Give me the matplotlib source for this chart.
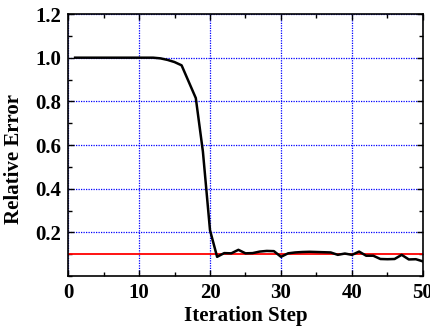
import matplotlib
matplotlib.use("Agg")
import matplotlib.pyplot as plt
from matplotlib.ticker import MultipleLocator

steps = list(range(1, 51))
rel_error = [1.0, 1.0, 1.0, 1.0, 1.0, 1.0, 1.0, 1.0, 1.0, 1.0,
             1.0, 1.0, 0.997, 0.99, 0.98, 0.965, 0.89, 0.815, 0.57, 0.21,
             0.088, 0.105, 0.104, 0.12, 0.104, 0.105, 0.112, 0.115, 0.114, 0.088,
             0.104, 0.108, 0.11, 0.111, 0.11, 0.109, 0.108, 0.097, 0.103, 0.097,
             0.112, 0.093, 0.093, 0.078, 0.077, 0.078, 0.097, 0.076, 0.077, 0.067]
threshold = 0.1

plt.rcParams['font.family'] = ['Liberation Serif', 'DejaVu Serif']
plt.rcParams['font.weight'] = 'bold'

fig = plt.figure(figsize=(4.31, 3.29), dpi=100)
ax = fig.add_axes([0.1578, 0.161, 0.8236, 0.7964])

ax.axhline(threshold, color='red', lw=1.3, zorder=2)
ax.plot(steps, rel_error, color='black', lw=1.8, zorder=3)

ax.set_xlim(0, 50)
ax.set_ylim(0, 1.2)
ax.xaxis.set_major_locator(MultipleLocator(10))
ax.xaxis.set_minor_locator(MultipleLocator(5))
ax.yaxis.set_minor_locator(MultipleLocator(0.1))
ax.set_yticks([0.2, 0.4, 0.6, 0.8, 1.0, 1.2])
ax.set_yticklabels(['0.2', '0.4', '0.6', '0.8', '1.0', '1.2'])

ax.grid(True, which='major', color='blue', linestyle=(0, (1, 1)), lw=0.9)
ax.tick_params(which='both', direction='in', top=True, right=True, labelsize=15, width=1)
ax.tick_params(which='major', length=4, pad=5)
ax.tick_params(which='minor', length=3)
for s in ax.spines.values():
    s.set_linewidth(1.2)

ax.set_xlabel('Iteration Step', fontsize=15, fontweight='bold', labelpad=2)
ax.set_ylabel('Relative Error', fontsize=15, fontweight='bold')
ax.yaxis.set_label_coords(-0.124, 0.447)

fig.savefig('out.png', dpi=100)
